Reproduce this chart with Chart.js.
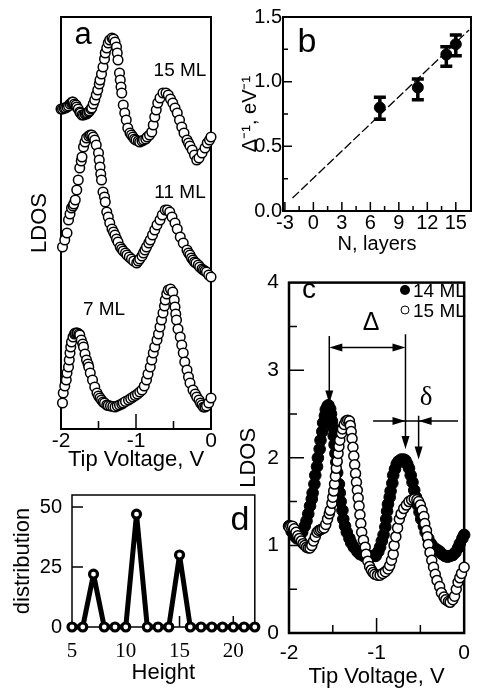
<!DOCTYPE html>
<html>
<head>
<meta charset="utf-8">
<script src="https://cdn.jsdelivr.net/npm/chart.js@4.4.0/dist/chart.umd.min.js"></script>
<style>
  body { margin: 0; background: #fff; width: 478px; height: 692px; position: relative; overflow: hidden;
         font-family: "Liberation Sans", Arial, sans-serif; color: #000; }
  canvas { position: absolute; }
  .t { position: absolute; white-space: nowrap; line-height: 1; transform: translate(-50%, -50%); }
  .lg { position: absolute; white-space: nowrap; line-height: 1; transform: translate(0, -50%); font-size: 19px; }
  .dot { position: absolute; width: 10px; height: 10px; border-radius: 50%; transform: translate(-50%, -50%); box-sizing: border-box; }
</style>
</head>
<body>
<canvas id="ca" width="240" height="480" style="left:0;top:0"></canvas>
<canvas id="cb" width="242" height="260" style="left:236px;top:0"></canvas>
<canvas id="cc" width="242" height="432" style="left:236px;top:260px"></canvas>
<canvas id="cd" width="262" height="222" style="left:0;top:470px"></canvas>

<div class="t" style="left:83px;top:33px;font-size:31px">a</div>
<div class="t" style="left:180px;top:69px;font-size:19px">15 ML</div>
<div class="t" style="left:180px;top:191px;font-size:19px">11 ML</div>
<div class="t" style="left:104px;top:308px;font-size:19px">7 ML</div>
<div class="t" style="left:307px;top:40px;font-size:34px">b</div>
<div class="t" style="left:309px;top:289px;font-size:28px">c</div>
<div class="t" style="left:240px;top:518px;font-size:34px">d</div>
<div class="t" style="left:371px;top:321px;font-size:25px">Δ</div>
<div class="t" style="left:426px;top:396px;font-size:27px;font-family:'Liberation Serif',serif">δ</div>
<div class="dot" style="left:405px;top:290px;background:#000"></div>
<div class="lg" style="left:413px;top:290px">14 ML</div>
<div class="dot" style="left:405px;top:310px;border:1.4px solid #000;background:#fff;width:9px;height:9px"></div>
<div class="lg" style="left:413px;top:310px">15 ML</div>

<script>
// ---- panel a: LDOS spectra (arb. units, curves stacked) ----
const a15V = [-2.00,-1.98,-1.96,-1.94,-1.92,-1.90,-1.88,-1.86,-1.85,-1.84,-1.82,-1.80,-1.79,-1.77,-1.75,-1.74,-1.72,-1.70,-1.68,-1.66,-1.65,-1.63,-1.62,-1.60,-1.59,-1.57,-1.55,-1.53,-1.51,-1.49,-1.48,-1.46,-1.44,-1.42,-1.41,-1.39,-1.37,-1.35,-1.32,-1.30,-1.28,-1.26,-1.25,-1.24,-1.22,-1.21,-1.20,-1.19,-1.17,-1.15,-1.13,-1.11,-1.08,-1.06,-1.04,-1.02,-1.00,-0.97,-0.95,-0.92,-0.90,-0.87,-0.85,-0.82,-0.79,-0.77,-0.75,-0.73,-0.71,-0.68,-0.64,-0.60,-0.57,-0.54,-0.51,-0.48,-0.45,-0.42,-0.39,-0.36,-0.32,-0.30,-0.28,-0.25,-0.22,-0.19,-0.16,-0.12,-0.08,-0.05,-0.02,0.00];
const a15L = [32.0,32.0,32.1,32.1,32.2,32.3,32.5,32.6,32.7,32.7,32.5,32.4,32.2,32.0,31.7,31.6,31.4,31.4,31.5,31.5,31.6,31.7,31.8,32.0,32.1,32.5,32.9,33.4,33.9,34.5,34.9,35.5,36.2,37.0,37.6,38.1,38.6,38.9,39.1,39.0,38.7,38.2,37.6,36.9,35.6,34.9,34.2,33.6,32.4,31.6,30.9,30.1,29.6,29.4,29.2,29.0,28.9,28.8,28.7,28.8,28.9,29.0,29.2,29.4,29.7,30.4,31.2,31.9,32.6,33.1,33.6,33.6,33.4,33.0,32.6,32.1,31.6,30.9,30.2,29.6,28.9,28.6,28.3,27.9,27.4,26.9,27.1,27.6,28.1,28.6,28.9,29.2];

const a11V = [-1.98,-1.95,-1.92,-1.90,-1.88,-1.86,-1.84,-1.83,-1.81,-1.79,-1.77,-1.75,-1.73,-1.72,-1.70,-1.68,-1.66,-1.63,-1.61,-1.59,-1.57,-1.55,-1.53,-1.50,-1.49,-1.48,-1.47,-1.46,-1.44,-1.42,-1.41,-1.39,-1.37,-1.35,-1.32,-1.30,-1.28,-1.26,-1.24,-1.21,-1.19,-1.17,-1.14,-1.12,-1.09,-1.06,-1.03,-0.99,-0.97,-0.95,-0.92,-0.90,-0.88,-0.86,-0.83,-0.81,-0.78,-0.75,-0.72,-0.68,-0.65,-0.61,-0.58,-0.55,-0.52,-0.48,-0.45,-0.41,-0.37,-0.32,-0.30,-0.28,-0.26,-0.24,-0.22,-0.20,-0.17,-0.15,-0.12,-0.10,-0.08,-0.06,-0.03,0.00];
const a11L = [18.2,18.9,19.6,20.9,21.5,22.1,22.3,22.5,22.9,23.9,24.9,26.1,26.8,27.2,28.2,28.7,29.1,29.3,29.4,29.4,29.2,28.9,28.4,27.6,26.9,26.2,25.5,24.9,23.7,23.2,22.7,21.7,21.2,20.6,20.0,19.7,19.4,19.0,18.7,18.2,18.0,17.8,17.6,17.4,17.2,17.0,16.8,16.6,16.8,17.0,17.3,17.6,17.9,18.2,18.6,18.9,19.4,19.9,20.4,20.9,21.4,21.9,21.9,21.7,21.2,20.6,20.0,19.2,18.6,17.9,17.6,17.4,17.1,16.9,16.7,16.6,16.4,16.2,16.0,15.9,15.8,15.7,15.4,15.2];

const a7V = [-1.98,-1.97,-1.95,-1.93,-1.92,-1.90,-1.89,-1.88,-1.87,-1.86,-1.84,-1.82,-1.81,-1.79,-1.78,-1.76,-1.75,-1.73,-1.71,-1.70,-1.68,-1.66,-1.64,-1.63,-1.61,-1.58,-1.55,-1.52,-1.50,-1.48,-1.46,-1.44,-1.42,-1.39,-1.37,-1.34,-1.31,-1.28,-1.25,-1.22,-1.19,-1.17,-1.14,-1.10,-1.07,-1.04,-1.01,-0.98,-0.95,-0.92,-0.89,-0.86,-0.84,-0.81,-0.79,-0.77,-0.75,-0.72,-0.70,-0.68,-0.66,-0.64,-0.62,-0.61,-0.59,-0.57,-0.54,-0.51,-0.49,-0.48,-0.47,-0.46,-0.44,-0.41,-0.39,-0.37,-0.35,-0.32,-0.30,-0.28,-0.24,-0.21,-0.19,-0.16,-0.14,-0.12,-0.10,-0.08,-0.06,-0.03,0.00];
const a7L = [2.6,3.6,4.3,4.9,5.6,6.2,6.9,7.6,8.2,8.7,9.2,9.5,9.6,9.6,9.6,9.5,9.4,8.9,8.5,8.2,7.5,6.9,6.5,6.2,5.6,4.9,4.2,3.6,3.3,3.1,2.9,2.7,2.6,2.4,2.35,2.3,2.25,2.2,2.3,2.4,2.5,2.6,2.75,2.9,3.05,3.2,3.35,3.5,3.7,3.9,4.3,4.9,5.5,6.2,6.9,7.6,8.2,8.9,9.5,10.2,10.9,11.6,12.3,12.9,13.5,13.9,14.0,13.7,12.9,12.2,11.5,10.9,10.0,9.2,8.4,7.6,6.7,5.9,5.2,4.6,3.9,3.5,3.2,2.9,2.6,2.4,2.2,2.2,2.3,2.6,3.1];
const aTicksX = [-2, -1.5, -1, -0.5, 0];

// ---- panel b: inverse gap vs number of layers ----
const bN = [7, 11, 14, 15];
const bInv = [0.80, 0.955, 1.21, 1.29];
const bErrLo = [0.71, 0.86, 1.12, 1.20];
const bErrHi = [0.88, 1.02, 1.27, 1.36];
const bFitN = [-2.2, 16.4];
const bFitInv = [0.10, 1.40];
const bTicksX = [-3, -1.5, 0, 1.5, 3, 4.5, 6, 7.5, 9, 10.5, 12, 13.5, 15];
const bTicksY = [0, 0.25, 0.5, 0.75, 1.0, 1.25, 1.5];

// ---- panel c: 14 ML vs 15 ML ----
const c14V = [-2.00,-1.97,-1.94,-1.91,-1.88,-1.85,-1.82,-1.80,-1.78,-1.76,-1.74,-1.73,-1.71,-1.70,-1.68,-1.67,-1.65,-1.64,-1.62,-1.61,-1.59,-1.58,-1.56,-1.55,-1.53,-1.52,-1.51,-1.50,-1.49,-1.48,-1.47,-1.46,-1.45,-1.43,-1.42,-1.41,-1.39,-1.38,-1.36,-1.34,-1.31,-1.29,-1.26,-1.22,-1.19,-1.15,-1.11,-1.08,-1.04,-1.01,-0.98,-0.96,-0.94,-0.92,-0.90,-0.89,-0.88,-0.87,-0.85,-0.84,-0.82,-0.81,-0.79,-0.77,-0.75,-0.72,-0.69,-0.67,-0.65,-0.63,-0.61,-0.59,-0.57,-0.55,-0.53,-0.51,-0.49,-0.46,-0.44,-0.41,-0.38,-0.35,-0.31,-0.28,-0.25,-0.22,-0.19,-0.16,-0.13,-0.10,-0.07,-0.05,-0.02,0.00];
const c14L = [1.22,1.16,1.11,1.08,1.08,1.15,1.22,1.28,1.36,1.45,1.53,1.60,1.70,1.80,1.90,2.00,2.10,2.20,2.30,2.40,2.48,2.55,2.59,2.60,2.56,2.50,2.42,2.35,2.25,2.15,2.05,1.95,1.83,1.70,1.60,1.50,1.40,1.30,1.22,1.15,1.08,1.03,0.98,0.93,0.90,0.88,0.88,0.88,0.88,0.88,0.93,0.98,1.05,1.12,1.21,1.30,1.39,1.47,1.55,1.62,1.71,1.80,1.87,1.93,1.96,1.98,1.98,1.97,1.93,1.88,1.80,1.72,1.63,1.55,1.46,1.38,1.30,1.22,1.15,1.08,1.02,0.98,0.95,0.93,0.90,0.88,0.87,0.88,0.89,0.92,0.97,1.02,1.08,1.12];
const c15V = [-2.00,-1.98,-1.96,-1.94,-1.92,-1.90,-1.88,-1.86,-1.84,-1.82,-1.80,-1.78,-1.76,-1.74,-1.72,-1.70,-1.68,-1.66,-1.64,-1.62,-1.60,-1.58,-1.56,-1.54,-1.53,-1.51,-1.50,-1.49,-1.48,-1.47,-1.46,-1.45,-1.44,-1.43,-1.42,-1.40,-1.39,-1.37,-1.35,-1.33,-1.31,-1.30,-1.29,-1.28,-1.27,-1.26,-1.25,-1.24,-1.23,-1.22,-1.21,-1.20,-1.19,-1.18,-1.17,-1.15,-1.13,-1.12,-1.10,-1.08,-1.06,-1.04,-1.02,-0.99,-0.96,-0.93,-0.90,-0.87,-0.85,-0.83,-0.81,-0.80,-0.78,-0.76,-0.74,-0.72,-0.69,-0.66,-0.63,-0.60,-0.57,-0.54,-0.52,-0.50,-0.48,-0.46,-0.45,-0.43,-0.42,-0.41,-0.39,-0.37,-0.35,-0.33,-0.31,-0.28,-0.26,-0.23,-0.21,-0.18,-0.16,-0.13,-0.11,-0.09,-0.07,-0.05,-0.03,0.00];
const c15L = [1.21,1.22,1.22,1.19,1.15,1.11,1.08,1.05,1.02,1.00,0.98,0.97,0.97,1.00,1.05,1.10,1.15,1.17,1.18,1.19,1.20,1.24,1.30,1.36,1.40,1.48,1.55,1.62,1.70,1.79,1.88,1.96,2.05,2.13,2.20,2.28,2.33,2.38,2.42,2.43,2.42,2.37,2.30,2.22,2.12,2.02,1.92,1.82,1.72,1.63,1.54,1.45,1.35,1.25,1.15,1.06,0.98,0.90,0.82,0.76,0.72,0.69,0.67,0.66,0.66,0.68,0.70,0.73,0.77,0.83,0.90,1.00,1.10,1.20,1.30,1.36,1.42,1.46,1.50,1.52,1.53,1.52,1.50,1.46,1.40,1.33,1.25,1.17,1.10,1.01,0.92,0.83,0.75,0.67,0.60,0.53,0.46,0.41,0.38,0.36,0.35,0.38,0.42,0.50,0.58,0.63,0.68,0.75];
const cTicksX = [-2, -1.5, -1, -0.5, 0];
const cTicksY = [0, 0.5, 1, 1.5, 2, 2.5, 3, 3.5, 4];
// arrows: Δ between the two peaks, δ between the 14 ML and 15 ML second peaks
const cArrowV = [-1.54, -0.67, -0.52];
const cArrowTop = [3.39, 3.41, 2.48];
const cArrowTip = [2.62, 2.10, 1.98];
const cDeltaLevel = 3.26;
const cSmallLevel = 2.42;
const cSmallSpan = [-1.04, -0.07];

// ---- panel d: height distribution ----
const dH = [5,6,7,8,9,10,11,12,13,14,15,16,17,18,19,20,21,22];
const dCount = [0,0,22,0,0,0,47,0,0,0,30,0,0,0,0,0,0,0];
const dTicksX = [5, 10, 15, 20];
const dTicksY = [0, 25, 50];

Chart.defaults.font.family = '"Liberation Sans", Arial, sans-serif';
Chart.defaults.color = '#000';

const pts = (xs, ys) => xs.map((x, i) => ({ x: x, y: ys[i] }));
const fixW = w => s => { s.width = w; };
const fixH = h => s => { s.height = h; };
const setTicks = arr => s => { s.ticks = arr.map(v => ({ value: v })); };
const noGrid = { display: false, drawTicks: false, tickLength: 0 };

// box round the plot area + inward tick marks
const framePlugin = {
  id: 'frame',
  beforeDatasetsDraw(chart, args, o) {
    const { ctx, chartArea: a, scales } = chart;
    ctx.save();
    ctx.strokeStyle = '#000';
    ctx.lineWidth = o.width;
    ctx.strokeRect(a.left, a.top, a.right - a.left, a.bottom - a.top);
    ctx.lineWidth = o.tickWidth;
    ctx.beginPath();
    scales.x.ticks.forEach(t => {
      const p = scales.x.getPixelForValue(t.value);
      if (p <= a.left + 1 || p >= a.right - 1) return;
      const len = t.label === '' ? o.minor : o.major;
      ctx.moveTo(p, a.bottom); ctx.lineTo(p, a.bottom - len);
    });
    if (o.y) {
      scales.y.ticks.forEach(t => {
        const p = scales.y.getPixelForValue(t.value);
        if (p <= a.top + 1 || p >= a.bottom - 1) return;
        const len = t.label === '' ? o.minor : o.major;
        ctx.moveTo(a.left, p); ctx.lineTo(a.left + len, p);
      });
    }
    ctx.stroke();
    ctx.restore();
  }
};

const errPlugin = {
  id: 'errbars',
  afterDatasetsDraw(chart) {
    const { ctx, scales: { x, y } } = chart;
    ctx.save();
    ctx.strokeStyle = '#000';
    ctx.lineWidth = 3.5;
    bN.forEach((n, i) => {
      const px = x.getPixelForValue(n);
      const lo = y.getPixelForValue(bErrLo[i]);
      const hi = y.getPixelForValue(bErrHi[i]);
      ctx.beginPath();
      ctx.moveTo(px, lo); ctx.lineTo(px, hi);
      ctx.moveTo(px - 6, lo); ctx.lineTo(px + 6, lo);
      ctx.moveTo(px - 6, hi); ctx.lineTo(px + 6, hi);
      ctx.stroke();
    });
    ctx.restore();
  }
};

function head(ctx, x, y, dx, dy) {
  // filled arrow head with tip at (x,y) pointing along (dx,dy)
  const L = 13, W = 4;
  ctx.beginPath();
  ctx.moveTo(x, y);
  ctx.lineTo(x - dx * L - dy * W, y - dy * L + dx * W);
  ctx.lineTo(x - dx * L + dy * W, y - dy * L - dx * W);
  ctx.closePath();
  ctx.fill();
}

const arrowPlugin = {
  id: 'arrows',
  afterDatasetsDraw(chart) {
    const { ctx, scales: { x, y } } = chart;
    ctx.save();
    ctx.strokeStyle = '#000';
    ctx.fillStyle = '#000';
    ctx.lineWidth = 1.5;
    cArrowV.forEach((v, i) => {
      const px = x.getPixelForValue(v);
      const top = y.getPixelForValue(cArrowTop[i]);
      const tip = y.getPixelForValue(cArrowTip[i]);
      ctx.beginPath(); ctx.moveTo(px, top); ctx.lineTo(px, tip - 6); ctx.stroke();
      head(ctx, px, tip, 0, 1);
    });
    // Δ double arrow
    const x0 = x.getPixelForValue(cArrowV[0]), x1 = x.getPixelForValue(cArrowV[1]);
    const yd = y.getPixelForValue(cDeltaLevel);
    ctx.beginPath(); ctx.moveTo(x0 + 6, yd); ctx.lineTo(x1 - 6, yd); ctx.stroke();
    head(ctx, x0, yd, -1, 0);
    head(ctx, x1, yd, 1, 0);
    // δ inward arrows
    const ys = y.getPixelForValue(cSmallLevel);
    const s0 = x.getPixelForValue(cSmallSpan[0]), s1 = x.getPixelForValue(cSmallSpan[1]);
    const x2 = x.getPixelForValue(cArrowV[2]);
    ctx.beginPath(); ctx.moveTo(s0, ys); ctx.lineTo(s1, ys); ctx.stroke();
    head(ctx, x1, ys, 1, 0);
    head(ctx, x2, ys, -1, 0);
    ctx.restore();
  }
};

const base = {
  animation: false,
  responsive: false,
  events: []
};

// panel a
new Chart(document.getElementById('ca'), {
  type: 'scatter',
  data: {
    datasets: [[a15V, a15L], [a11V, a11L], [a7V, a7L]].map(s => ({
      data: pts(s[0], s[1]),
      pointRadius: 4.8, pointBorderWidth: 1.5,
      pointBackgroundColor: '#fff', pointBorderColor: '#000', clip: false
    }))
  },
  options: Object.assign({}, base, {
    layout: { padding: { left: 0, right: 29, top: 17, bottom: 3 } },
    plugins: { legend: { display: false }, tooltip: { enabled: false },
               frame: { width: 2, tickWidth: 1.5, major: 15, minor: 8, y: false } },
    scales: {
      x: { type: 'linear', min: -2, max: 0, afterBuildTicks: setTicks(aTicksX), afterFit: fixH(48),
           grid: noGrid, border: { display: false },
           ticks: { callback: v => Number.isInteger(v) ? String(v) : '', font: { size: 21 }, padding: 0, autoSkip: false, maxRotation: 0 },
           title: { display: true, text: 'Tip Voltage, V', font: { size: 22 }, padding: { top: 0, bottom: 4 } } },
      y: { type: 'linear', min: 0, max: 41.2, afterFit: fixW(61),
           grid: noGrid, border: { display: false }, ticks: { display: false },
           title: { display: true, text: 'LDOS', font: { size: 22 }, padding: { top: 27, bottom: 0 } } }
    }
  }),
  plugins: [framePlugin]
});

// panel b
new Chart(document.getElementById('cb'), {
  type: 'scatter',
  data: {
    datasets: [
      { data: pts(bN, bInv), pointRadius: 5.5, pointBackgroundColor: '#000', pointBorderColor: '#000', clip: false },
      { data: pts(bFitN, bFitInv), showLine: true, pointRadius: 0, borderColor: '#000', borderWidth: 1.3, borderDash: [9, 3] }
    ]
  },
  options: Object.assign({}, base, {
    layout: { padding: { left: 0, right: 7, top: 17, bottom: 2 } },
    plugins: { legend: { display: false }, tooltip: { enabled: false },
               frame: { width: 2, tickWidth: 1.5, major: 9, minor: 5, y: true } },
    scales: {
      x: { type: 'linear', min: -3.2, max: 16.6, afterBuildTicks: setTicks(bTicksX), afterFit: fixH(47),
           grid: noGrid, border: { display: false },
           ticks: { callback: v => (v % 3 === 0) ? String(v) : '', font: { size: 20 }, padding: 0, autoSkip: false, maxRotation: 0 },
           title: { display: true, text: 'N, layers', font: { size: 20 }, padding: { top: 0, bottom: 2 } } },
      y: { type: 'linear', min: 0, max: 1.5, afterBuildTicks: setTicks(bTicksY), afterFit: fixW(47),
           grid: noGrid, border: { display: false },
           ticks: { callback: v => (Math.round(v * 100) % 50 === 0) ? v.toFixed(1) : '', font: { size: 20 }, padding: 1, autoSkip: false },
           title: { display: true, text: 'Δ⁻¹, eV⁻¹', font: { size: 20 }, padding: { top: 2, bottom: 0 } } }
    }
  }),
  plugins: [framePlugin, errPlugin]
});

// panel c
new Chart(document.getElementById('cc'), {
  type: 'scatter',
  data: {
    datasets: [
      { label: '15 ML', data: pts(c15V, c15L), order: 0, pointRadius: 5, pointBorderWidth: 1.5,
        pointBackgroundColor: '#fff', pointBorderColor: '#000', clip: false },
      { label: '14 ML', data: pts(c14V, c14L), order: 1, pointRadius: 5.8, pointBorderWidth: 1,
        pointBackgroundColor: '#000', pointBorderColor: '#000', clip: false }
    ]
  },
  options: Object.assign({}, base, {
    layout: { padding: { left: 0, right: 3, top: 10, bottom: 2 } },
    plugins: { legend: { display: false }, tooltip: { enabled: false },
               frame: { width: 2.5, tickWidth: 1.5, major: 15, minor: 8, y: true } },
    scales: {
      x: { type: 'linear', min: -2, max: 0, afterBuildTicks: setTicks(cTicksX), afterFit: fixH(57),
           grid: noGrid, border: { display: false },
           ticks: { callback: v => Number.isInteger(v) ? String(v) : '', font: { size: 21 }, padding: 8, autoSkip: false, maxRotation: 0 },
           title: { display: true, text: 'Tip Voltage, V', font: { size: 22 }, padding: { top: 0, bottom: 0 } } },
      y: { type: 'linear', min: 0, max: 4, afterBuildTicks: setTicks(cTicksY), afterFit: fixW(53),
           grid: noGrid, border: { display: false },
           ticks: { callback: v => Number.isInteger(v) ? String(v) : '', font: { size: 21 }, padding: 10, autoSkip: false },
           title: { display: true, text: 'LDOS', font: { size: 22 }, padding: { top: 0, bottom: 0 } } }
    }
  }),
  plugins: [framePlugin, arrowPlugin]
});

// panel d
new Chart(document.getElementById('cd'), {
  type: 'scatter',
  data: {
    datasets: [
      { data: pts(dH, dCount), showLine: true, borderColor: '#000', borderWidth: 5, borderJoinStyle: 'round',
        pointRadius: 4, pointBorderWidth: 3.2, pointBackgroundColor: '#fff', pointBorderColor: '#000', clip: false }
    ]
  },
  options: Object.assign({}, base, {
    layout: { padding: { left: 0, right: 6, top: 25, bottom: 6 } },
    plugins: { legend: { display: false }, tooltip: { enabled: false },
               frame: { width: 1.5, tickWidth: 1.5, major: 11, minor: 6, y: true } },
    scales: {
      x: { type: 'linear', min: 5, max: 22, afterBuildTicks: setTicks(dTicksX), afterFit: fixH(59),
           grid: noGrid, border: { display: false },
           ticks: { callback: v => String(v), font: { size: 21, family: '"Liberation Serif", "Times New Roman", serif' }, padding: 12, autoSkip: false, maxRotation: 0 },
           title: { display: true, text: 'Height', font: { size: 22 }, padding: { top: 0, bottom: 0 } } },
      y: { type: 'linear', min: 0, max: 55, afterBuildTicks: setTicks(dTicksY), afterFit: fixW(72),
           grid: noGrid, border: { display: false },
           ticks: { callback: v => String(v), font: { size: 20 }, padding: 10, autoSkip: false },
           title: { display: true, text: 'distribution', font: { size: 22 }, padding: { top: 10, bottom: 0 } } }
    }
  }),
  plugins: [framePlugin]
});
</script>
</body>
</html>
